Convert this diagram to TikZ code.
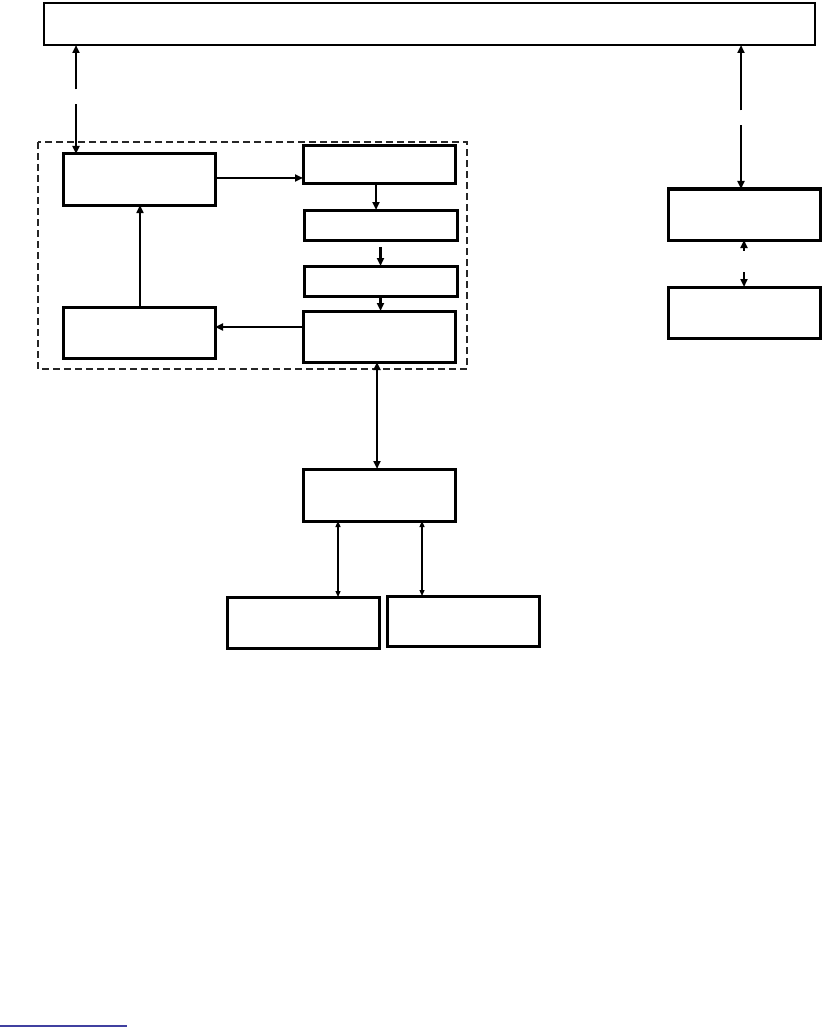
\documentclass[tikz,border=0pt]{standalone}
\usetikzlibrary{arrows.meta}
\begin{document}
\begin{tikzpicture}[x=1pt,y=-1pt,
  box/.style={draw,line width=3pt,inner sep=0pt,outer sep=0pt},
  arr/.style={line width=2.5pt,{Triangle[length=8pt,width=7pt]}-{Triangle[length=8pt,width=7pt]}},
  rarr/.style={line width=2.2pt,-{Triangle[length=8pt,width=7pt]}},
  tarr/.style={line width=1.2pt,{Triangle[length=6pt,width=5pt]}-{Triangle[length=6pt,width=5pt]}}]
\useasboundingbox (0,0) rectangle (822,1027);
\node[draw,line width=1.4pt,inner sep=0pt,outer sep=0pt,minimum width=771pt,minimum height=42pt] (top) at (429.5,24) {};
\draw[dash pattern=on 7pt off 4pt,line width=1.1pt,draw=black!85] (38,142) rectangle (467,369);
\node[box,minimum width=152pt,minimum height=51pt] (A) at (139,179.5) {};
\node[box,minimum width=152pt,minimum height=38pt] (B) at (379,165) {};
\node[box,minimum width=153pt,minimum height=30pt] (C) at (380.5,225) {};
\node[box,minimum width=153pt,minimum height=30pt] (D) at (380.5,281) {};
\node[box,minimum width=152pt,minimum height=51pt] (E) at (379,336.5) {};
\node[box,minimum width=152pt,minimum height=51pt] (F) at (139,332.5) {};
\node[box,minimum width=152pt,minimum height=52pt] (G) at (379,495) {};
\node[box,minimum width=152pt,minimum height=51pt] (H) at (303,622.5) {};
\node[box,minimum width=152pt,minimum height=50pt] (I) at (463,621) {};
\node[box,minimum width=152pt,minimum height=51pt] (J) at (744,214.5) {};
\node[box,minimum width=152pt,minimum height=51pt] (K) at (744,312.5) {};
% connectors
\draw[arr,dash pattern=on 42pt off 15pt on 200pt] ([xshift=13pt]A.north west) -- ([xshift=32pt]top.south west);
\draw[rarr] ([yshift=1.5pt]A.east) -- ([yshift=1.5pt]A.east -| B.west);
\draw[rarr] ([xshift=-3pt]B.south) -- ([xshift=-3pt]B.south |- C.north);
\draw[rarr] ([yshift=-7pt]C.south) -- (C.south |- D.north);
\draw[rarr] (D.south) -- (D.south |- E.north);
\draw[rarr] ([yshift=9.5pt]E.west) -- ([yshift=9.5pt]E.west -| F.east);
\draw[rarr,line width=1.6pt] ([xshift=1pt]F.north) -- ([xshift=1pt]A.south);
\draw[arr] ([xshift=-2pt]E.south) -- ([xshift=-2pt]G.north);
\draw[tarr] ([xshift=35pt]G.south west) -- ([xshift=35pt]G.south west |- H.north);
\draw[tarr] ([xshift=119pt]G.south west) -- ([xshift=119pt]G.south west |- I.north);
\draw[arr,dash pattern=on 56pt off 15pt on 200pt] ([xshift=-3pt]J.north) -- ([xshift=-3pt]J.north |- top.south);
\draw[arr,dash pattern=on 8pt off 21pt on 40pt] (K.north) -- (J.south);
\draw[line width=1.3pt,draw={rgb,255:red,64;green,64;blue,160}] (0,1026) -- (127,1026);
\end{tikzpicture}
\end{document}
